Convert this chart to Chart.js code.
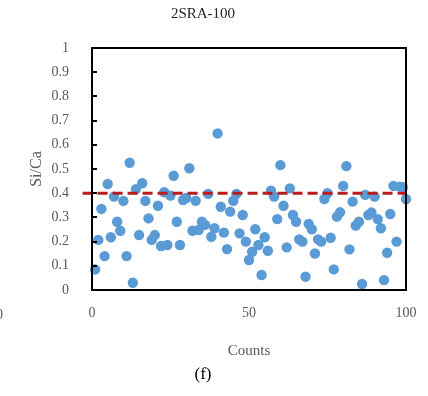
<!DOCTYPE html>
<html>
<head>
<meta charset="utf-8">
<script src="https://cdn.jsdelivr.net/npm/chart.js@4.4.1/dist/chart.umd.min.js"></script>
<style>
  html, body { margin: 0; padding: 0; background: #ffffff; }
  #wrap { width: 428px; height: 396px; position: relative; }
</style>
</head>
<body>
<div id="wrap"><canvas id="c" width="428" height="396"></canvas></div>
<script>
// Si/Ca ratio measured at each of the 100 analysis points
const siCaRatios = [
  0.085, 0.207, 0.335, 0.140, 0.438, 0.218, 0.386, 0.282, 0.245, 0.368,
  0.140, 0.526, 0.030, 0.417, 0.227, 0.441, 0.368, 0.296, 0.207, 0.227,
  0.348, 0.182, 0.404, 0.186, 0.390, 0.472, 0.282, 0.186, 0.372, 0.380,
  0.503, 0.245, 0.369, 0.248, 0.282, 0.269, 0.397, 0.220, 0.255, 0.647,
  0.344, 0.237, 0.169, 0.324, 0.369, 0.397, 0.234, 0.310, 0.200, 0.124,
  0.158, 0.251, 0.186, 0.062, 0.218, 0.162, 0.410, 0.386, 0.293, 0.516,
  0.348, 0.176, 0.420, 0.310, 0.282, 0.209, 0.200, 0.055, 0.273, 0.251,
  0.151, 0.209, 0.200, 0.376, 0.400, 0.216, 0.085, 0.303, 0.321, 0.430,
  0.512, 0.168, 0.365, 0.266, 0.282, 0.025, 0.393, 0.310, 0.320, 0.386,
  0.293, 0.255, 0.041, 0.154, 0.314, 0.430, 0.200, 0.427, 0.425, 0.376
];
// Count index of each point (1..100)
const counts = siCaRatios.map((_, i) => i + 1);

// Reference Si/Ca level and the x-extent of its dashed line
const referenceRatio = 0.4;
const referenceSpan = [-3, 100];

// Axis ranges and tick steps
const xRange = [0, 100];
const xStep = 50;
const yRange = [0, 1];
const yStep = 0.1;

const scatterPoints = counts.map((c, i) => ({ x: c, y: siCaRatios[i] }));
const referencePoints = referenceSpan.map(x => ({ x: x, y: referenceRatio }));

const SERIF = '"Liberation Serif", "Times New Roman", serif';
const GREY = '#595959';

// Plot frame and inward-pointing y ticks
const framePlugin = {
  id: 'frameTicks',
  afterDatasetsDraw(chart) {
    const { ctx, chartArea: a, scales } = chart;
    ctx.save();
    ctx.strokeStyle = '#000000';
    ctx.lineWidth = 2;
    ctx.strokeRect(a.left, a.top, a.right - a.left, a.bottom - a.top);
    scales.y.ticks.forEach(t => {
      const py = Math.round(scales.y.getPixelForValue(t.value));
      ctx.beginPath();
      ctx.moveTo(a.left, py);
      ctx.lineTo(a.left + 5, py);
      ctx.stroke();
    });
    ctx.restore();
  },
  afterDraw(chart) {
    // edge of the neighbouring panel's axis label
    const { ctx } = chart;
    ctx.save();
    ctx.fillStyle = GREY;
    ctx.font = '14px ' + SERIF;
    ctx.textBaseline = 'middle';
    ctx.fillText('0', -4, 315);
    ctx.restore();
  }
};

new Chart(document.getElementById('c'), {
  type: 'scatter',
  data: {
    datasets: [
      {
        label: 'Si/Ca',
        data: scatterPoints,
        backgroundColor: '#5B9BD5',
        borderColor: '#5B9BD5',
        borderWidth: 0,
        pointRadius: 5.2,
        clip: false,
        order: 2
      },
      {
        type: 'line',
        label: 'reference',
        data: referencePoints,
        borderColor: '#B81D1D',
        borderWidth: 3,
        borderDash: [10, 5],
        pointRadius: 0,
        fill: false,
        clip: false,
        order: 1
      }
    ]
  },
  options: {
    responsive: false,
    animation: false,
    events: [],
    layout: { padding: { left: 0, right: 22, top: 0, bottom: 11 } },
    plugins: {
      legend: { display: false },
      tooltip: { enabled: false },
      title: {
        display: true,
        text: '2SRA-100',
        color: '#262626',
        font: { family: SERIF, size: 15, weight: 'normal' },
        padding: { top: 5, bottom: 25 }
      },
      subtitle: {
        display: true,
        position: 'bottom',
        text: '(f)',
        color: '#000000',
        font: { family: SERIF, size: 17, weight: 'normal' },
        padding: { top: 0, bottom: 0 }
      }
    },
    scales: {
      x: {
        type: 'linear',
        min: xRange[0],
        max: xRange[1],
        grid: { display: false },
        border: { display: false },
        ticks: {
          stepSize: xStep,
          padding: 7,
          color: GREY,
          font: { family: SERIF, size: 14 },
          maxRotation: 0
        },
        title: {
          display: true,
          text: 'Counts',
          color: GREY,
          font: { family: SERIF, size: 15 },
          padding: { top: 0, bottom: 5 }
        },
        afterFit(scale) { scale.height = 74.6; }
      },
      y: {
        type: 'linear',
        min: yRange[0],
        max: yRange[1],
        grid: { display: false },
        border: { display: false },
        ticks: {
          stepSize: yStep,
          padding: 15,
          color: GREY,
          font: { family: SERIF, size: 14 },
          callback: v => String(Math.round(v * 10) / 10)
        },
        title: {
          display: true,
          text: 'Si/Ca',
          color: GREY,
          font: { family: SERIF, size: 16 },
          padding: { top: 27, bottom: 0 }
        },
        afterFit(scale) { scale.width = 92; }
      }
    }
  },
  plugins: [framePlugin]
});
</script>
</body>
</html>
